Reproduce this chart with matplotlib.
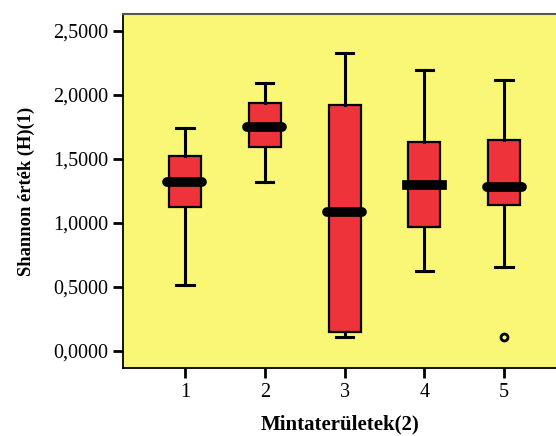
import matplotlib
matplotlib.use("Agg")
import matplotlib.pyplot as plt

# five-number summaries per sample area
areas = ["1", "2", "3", "4", "5"]
whislo = [0.513, 1.320, 0.107, 0.628, 0.659]
q1 = [1.125, 1.594, 0.146, 0.971, 1.143]
med = [1.323, 1.750, 1.083, 1.294, 1.281]
q3 = [1.523, 1.935, 1.924, 1.633, 1.648]
whishi = [1.742, 2.091, 2.326, 2.193, 2.115]
fliers = [[], [], [], [], [0.109]]

ytick_vals = [0.0, 0.5, 1.0, 1.5, 2.0, 2.5]
ytick_labels = ["0,0000", "0,5000", "1,0000", "1,5000", "2,0000", "2,5000"]

plt.rcParams['font.family'] = ['Liberation Serif', 'DejaVu Serif']

fig = plt.figure(figsize=(5.56, 4.36), dpi=100)
ax = fig.add_axes([0.2212, 0.156, 0.779, 0.812])
ax.set_facecolor('#F9F775')

stats = []
for i in range(len(areas)):
    stats.append({'label': areas[i], 'whislo': whislo[i], 'q1': q1[i], 'med': med[i],
                  'q3': q3[i], 'whishi': whishi[i], 'fliers': fliers[i]})

bp = ax.bxp(stats, positions=range(1, 6), widths=0.4, capwidths=0.22, patch_artist=True,
            boxprops=dict(facecolor='#EE343A', edgecolor='black', linewidth=1.6),
            whiskerprops=dict(color='black', linewidth=2.2),
            capprops=dict(color='black', linewidth=2.2),
            medianprops=dict(color='black', linewidth=7, solid_capstyle='round'),
            flierprops=dict(marker='o', markersize=5, markeredgewidth=2,
                            markeredgecolor='black', markerfacecolor='#F9F775'))
# area 4 median drawn with square ends in the original
bp['medians'][3].set_solid_capstyle('projecting')
for m in bp['medians']:
    x = m.get_xdata()
    m.set_xdata([x[0] - 0.02, x[1] + 0.02])

ax.set_xlim(0.225, 5.65)
ax.set_ylim(-0.133, 2.633)
ax.set_yticks(ytick_vals)
ax.set_yticklabels(ytick_labels)
ax.set_xticks(range(1, 6))
ax.set_xticklabels(areas)
ax.tick_params(axis='both', labelsize=14.5, length=7, width=2)

ax.spines['top'].set_color('#555555')
ax.spines['top'].set_linewidth(1.5)
ax.spines['right'].set_visible(False)
ax.spines['left'].set_linewidth(1.3)
ax.spines['bottom'].set_linewidth(1.3)

ax.set_xlabel("Mintaterületek(2)", fontsize=15, fontweight='bold', labelpad=9)
ax.set_ylabel("Shannon érték (H)(1)", fontsize=13.3, fontweight='bold', labelpad=13)

fig.savefig("out.png", dpi=100)
